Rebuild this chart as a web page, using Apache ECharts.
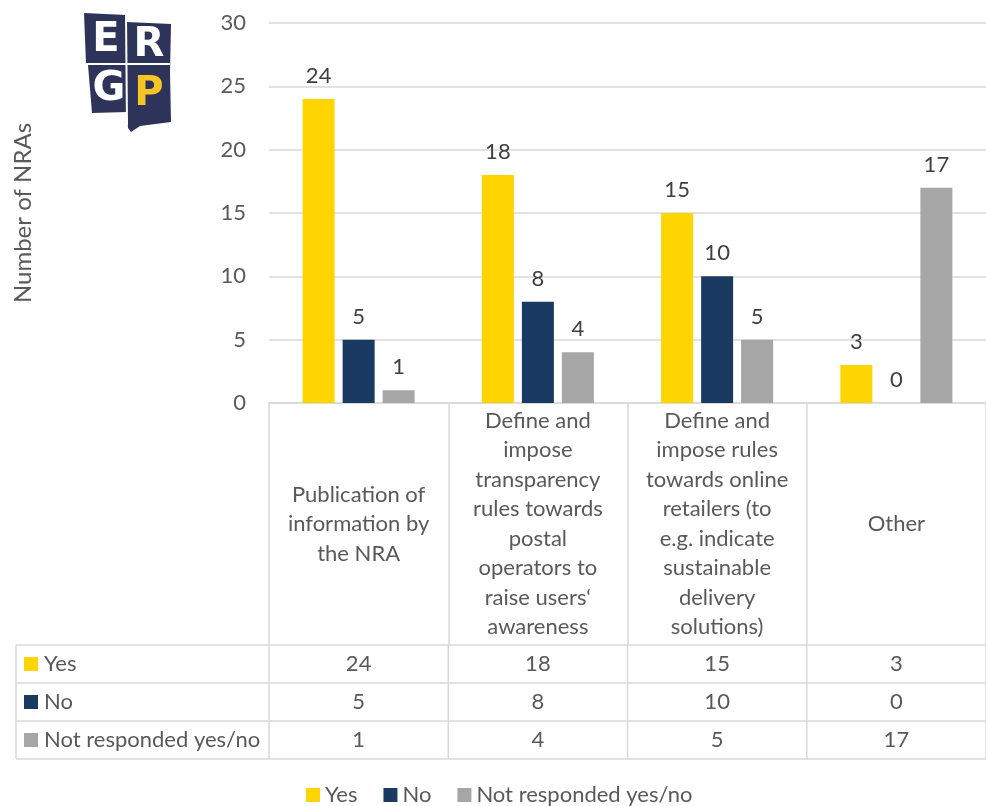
<!DOCTYPE html>
<html><head><meta charset="utf-8">
<script src="https://cdn.jsdelivr.net/npm/echarts@6/dist/echarts.min.js"></script>
<style>html,body{margin:0;padding:0;background:#fff}#c{width:986px;height:806px}</style>
</head><body><div id="c"></div>
<script>
const categories = [
  "Publication of\ninformation by\nthe NRA",
  "Define and\nimpose\ntransparency\nrules towards\npostal\noperators to\nraise users‘\nawareness",
  "Define and\nimpose rules\ntowards online\nretailers (to\ne.g. indicate\nsustainable\ndelivery\nsolutions)",
  "Other"
];
const seriesNames = ["Yes", "No", "Not responded yes/no"];
const yesValues = [24, 18, 15, 3];
const noValues = [5, 8, 10, 0];
const notRespondedValues = [1, 4, 5, 17];
const yTicks = [0, 5, 10, 15, 20, 25, 30];

const colors = ["#FFD500", "#1B3A62", "#A6A6A6"];
const FONT = "Lato";
const TXT = "#595959";
const FS = 22;

const chart = echarts.init(document.getElementById('c'), null, {renderer: 'canvas'});
const allValues = [yesValues, noValues, notRespondedValues];

const option = {
  animation: false,
  textStyle: {fontFamily: FONT},
  grid: {left: 269, right: 0, top: 23, bottom: 403, containLabel: false},
  legend: {
    data: seriesNames, left: 301, top: 780, padding: [3, 5, 0, 5], itemWidth: 14, itemHeight: 14, itemGap: 26,
    icon: 'rect', textStyle: {fontSize: FS, color: TXT, fontFamily: FONT, lineHeight: 24}
  },
  xAxis: {
    type: 'category', data: categories,
    axisLine: {lineStyle: {color: '#D9D9D9', width: 1.5}},
    axisTick: {show: true, length: 242, interval: 0, lineStyle: {color: '#D9D9D9', width: 1.5}},
    axisLabel: {interval: 0, margin: 121, verticalAlign: 'middle', align: 'center', color: TXT, fontSize: FS, lineHeight: 29.5, fontFamily: FONT}
  },
  yAxis: {
    type: 'value', min: yTicks[0], max: yTicks[yTicks.length - 1], interval: 5,
    name: 'Number of NRAs', nameLocation: 'middle', nameGap: 234, nameRotate: 90,
    nameTextStyle: {fontSize: 24, color: TXT, fontFamily: FONT},
    axisLine: {show: false}, axisTick: {show: false},
    axisLabel: {margin: 23, color: TXT, fontSize: FS, fontFamily: FONT},
    splitLine: {lineStyle: {color: '#D9D9D9', width: 1.5}}
  },
  series: seriesNames.map((n, i) => ({
    name: n, type: 'bar', data: allValues[i], barWidth: 32, barGap: '25%',
    itemStyle: {color: colors[i]},
    label: {show: true, position: 'top', distance: 12, fontSize: FS, color: '#404040', fontFamily: FONT}
  }))
};
chart.setOption(option);

// Data table beneath the axis
const rowTop = 645, rowH = 38, tableLeft = 16, tableRight = 986;
const c0 = chart.convertToPixel({xAxisIndex: 0}, 0);
const c1 = chart.convertToPixel({xAxisIndex: 0}, 1);
const bw = c1 - c0;
const graphics = [];
const lineStyle = {stroke: '#D9D9D9', lineWidth: 1.5};
for (let r = 0; r <= seriesNames.length; r++) {
  const y = rowTop + r * rowH;
  graphics.push({type: 'line', shape: {x1: tableLeft, y1: y, x2: tableRight, y2: y}, style: lineStyle, silent: true});
}
const vx = [tableLeft];
for (let i = 0; i <= categories.length; i++) vx.push(c0 - bw / 2 + i * bw);
vx.forEach(x => graphics.push({type: 'line', shape: {x1: x, y1: rowTop, x2: x, y2: rowTop + rowH * seriesNames.length}, style: lineStyle, silent: true}));
seriesNames.forEach((n, r) => {
  const cy = rowTop + r * rowH + rowH / 2;
  graphics.push({type: 'rect', shape: {x: 24, y: cy - 7, width: 14, height: 14}, style: {fill: colors[r]}, silent: true});
  graphics.push({type: 'text', x: 44, y: cy, style: {text: n, fill: TXT, font: FS + 'px ' + FONT, textVerticalAlign: 'middle', textAlign: 'left'}, silent: true});
  allValues[r].forEach((v, k) => {
    graphics.push({type: 'text', x: c0 + k * bw, y: cy, style: {text: String(v), fill: TXT, font: FS + 'px ' + FONT, textVerticalAlign: 'middle', textAlign: 'center'}, silent: true});
  });
});
// ERGP logo
const navy = '#2E3459';
graphics.push({type: 'polygon', shape: {points: [[84,13],[126,15],[127,22],[171,24],[170,72],[171,122],[140,126],[131,132],[128,128],[127,112],[92,113],[88,65],[86,64]]}, style: {fill: navy}, silent: true});
graphics.push({type: 'line', shape: {x1: 86, y1: 64, x2: 170, y2: 64}, style: {stroke: '#fff', lineWidth: 2}, silent: true});
graphics.push({type: 'line', shape: {x1: 126, y1: 15, x2: 127, y2: 125}, style: {stroke: '#fff', lineWidth: 2}, silent: true});
[['E',106,41,'#fff'],['R',149,46,'#fff'],['G',109,90,'#fff'],['P',149,95,'#F7C625']].forEach(([t,x,y,f]) => {
  graphics.push({type: 'text', x: x, y: y, style: {text: t, fill: f, font: 'bold 40px "DejaVu Sans"', textAlign: 'center', textVerticalAlign: 'middle'}, silent: true});
});
chart.setOption({graphic: graphics});
</script></body></html>
